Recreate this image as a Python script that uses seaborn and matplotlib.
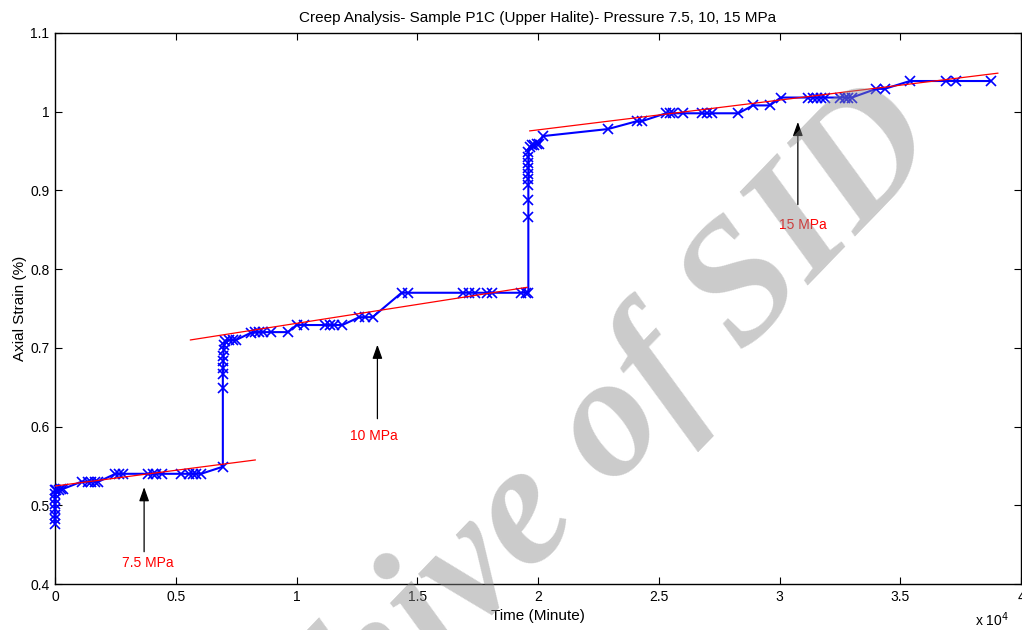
import numpy as np
import pandas as pd
import matplotlib
matplotlib.use("Agg")
import matplotlib.pyplot as plt
from matplotlib.ticker import FuncFormatter
import seaborn as sns

# Creep test readings: elapsed time (minutes) and axial strain (%)
time_min = [
    0, 0, 0, 0, 0, 0, 0, 0,
    60, 150, 250, 350,
    1100, 1350, 1500, 1650, 1800,
    2500, 2650, 2800,
    3850, 4050, 4200, 4450,
    5200, 5550, 5700, 5850, 6050,
    6950,
    6950, 6950, 6960, 6970, 6970, 6980, 7000,
    7050, 7200, 7350, 7500,
    8100, 8300, 8450, 8600, 8950,
    9650,
    10000, 10300,
    11200, 11400, 11550, 11900,
    12600, 12850, 13150,
    14350, 14600,
    16900, 17150, 17400,
    17900, 18100,
    19300, 19500, 19600,
    19600, 19600, 19600, 19600, 19600, 19600, 19600, 19600, 19600, 19650,
    19750, 19850, 19950, 20050,
    20200,
    22900,
    24100, 24300,
    25300, 25450, 25600, 26000,
    26800, 27000, 27200,
    28300,
    28900, 29600,
    30050,
    31200, 31400, 31550, 31700, 31900,
    32500, 32700, 32850, 33000,
    34000, 34350,
    35400,
    36900, 37300,
    38750,
]
strain_pct = [
    0.476, 0.482, 0.488, 0.495, 0.501, 0.508, 0.514, 0.519,
    0.520, 0.520, 0.521, 0.521,
    0.530, 0.530, 0.530, 0.530, 0.530,
    0.540, 0.540, 0.540,
    0.540, 0.540, 0.540, 0.540,
    0.540, 0.540, 0.540, 0.540, 0.540,
    0.549,
    0.649, 0.667, 0.675, 0.683, 0.690, 0.697, 0.703,
    0.709, 0.710, 0.710, 0.710,
    0.719, 0.720, 0.720, 0.720, 0.720,
    0.720,
    0.729, 0.729,
    0.729, 0.729, 0.729, 0.729,
    0.739, 0.739, 0.739,
    0.770, 0.770,
    0.770, 0.770, 0.770,
    0.770, 0.770,
    0.770, 0.770, 0.770,
    0.866, 0.888, 0.907, 0.914, 0.921, 0.928, 0.935, 0.942, 0.949, 0.955,
    0.958, 0.958, 0.959, 0.959,
    0.969,
    0.978,
    0.988, 0.988,
    0.998, 0.998, 0.998, 0.998,
    0.998, 0.998, 0.998,
    0.998,
    1.008, 1.008,
    1.018,
    1.018, 1.018, 1.018, 1.018, 1.018,
    1.018, 1.018, 1.018, 1.018,
    1.029, 1.029,
    1.039,
    1.039, 1.039,
    1.039,
]

# Linear creep-rate fits for each pressure stage (start / end points)
fit_t0 = [0, 5600, 19650]
fit_t1 = [8300, 19560, 39050]
fit_y0 = [0.5245, 0.710, 0.9756]
fit_y1 = [0.5576, 0.777, 1.049]

# Pressure stage labels with arrows
stage_labels = ["7.5 MPa", "10 MPa", "15 MPa"]
arrow_t = [3690, 13350, 30760]
arrow_tip = [0.523, 0.704, 0.987]
arrow_tail = [0.441, 0.610, 0.882]
label_t = [3850, 13200, 30960]
label_y = [0.427, 0.588, 0.856]

x_ticks = [0, 5000, 10000, 15000, 20000, 25000, 30000, 35000, 40000]
y_ticks = [0.4, 0.5, 0.6, 0.7, 0.8, 0.9, 1.0, 1.1]

sns.set_theme(style="white")
plt.rcParams["font.family"] = ["Liberation Sans", "DejaVu Sans"]

fig = plt.figure(figsize=(10.22, 6.3), dpi=100)
ax = fig.add_axes([55 / 1022, 1 - 584 / 630, (1021 - 55) / 1022, (584 - 33) / 630])

data = pd.DataFrame({"time": time_min, "strain": strain_pct})
sns.lineplot(data=data, x="time", y="strain", estimator=None, sort=False,
             color="#0000ff", linewidth=1.5, marker="x", markersize=6.5,
             markeredgewidth=1.2, markeredgecolor="#0000ff", ax=ax,
             clip_on=False, zorder=3)

for t0, t1, y0, y1 in zip(fit_t0, fit_t1, fit_y0, fit_y1):
    seg = pd.DataFrame({"time": [t0, t1], "strain": [y0, y1]})
    sns.lineplot(data=seg, x="time", y="strain", estimator=None, sort=False,
                 color="#ff0000", linewidth=0.9, ax=ax, zorder=4)

for lab, at, tip, tail, lt, ly in zip(stage_labels, arrow_t, arrow_tip,
                                      arrow_tail, label_t, label_y):
    ax.annotate("", xy=(at, tip), xytext=(at, tail),
                arrowprops=dict(arrowstyle="-|>,head_length=0.7,head_width=0.25",
                                color="black", lw=0.9, shrinkA=0, shrinkB=0))
    ax.text(lt, ly, lab, color="#ff0000", fontsize=10, ha="center", va="center")

ax.set_xlim(0, 40000)
ax.set_ylim(0.4, 1.1)
ax.set_xticks(x_ticks)
ax.set_yticks(y_ticks)
ax.xaxis.set_major_formatter(FuncFormatter(lambda v, p: f"{round(v / 1e4, 2):g}"))
ax.yaxis.set_major_formatter(FuncFormatter(lambda v, p: f"{round(v, 2):g}"))
ax.tick_params(direction="in", length=5, width=0.8, color="black",
               labelsize=10, labelcolor="black", top=True, right=True,
               bottom=True, left=True, pad=4)
for s in ax.spines.values():
    s.set_visible(True)
    s.set_color("black")
    s.set_linewidth(1.0)

ax.set_xlabel("Time (Minute)", fontsize=11, color="black", labelpad=4)
ax.set_ylabel("Axial Strain (%)", fontsize=11, color="black", labelpad=2)
ax.set_title("Creep Analysis- Sample P1C (Upper Halite)- Pressure 7.5, 10, 15 MPa",
             fontsize=11, color="black", pad=8)
fig.text(992 / 1022, 1 - 620 / 630, r"x 10$^{4}$", fontsize=10, ha="center",
         va="center", color="black")

# Archive watermark across the figure
fig.text(0.53, 0.19, "Archive of SID", rotation=46, fontsize=125,
         family="Liberation Serif", fontweight="bold", fontstyle="italic",
         color="#8c8c8c", alpha=0.45, ha="center", va="center", zorder=10)

fig.savefig("out.png", dpi=100)
